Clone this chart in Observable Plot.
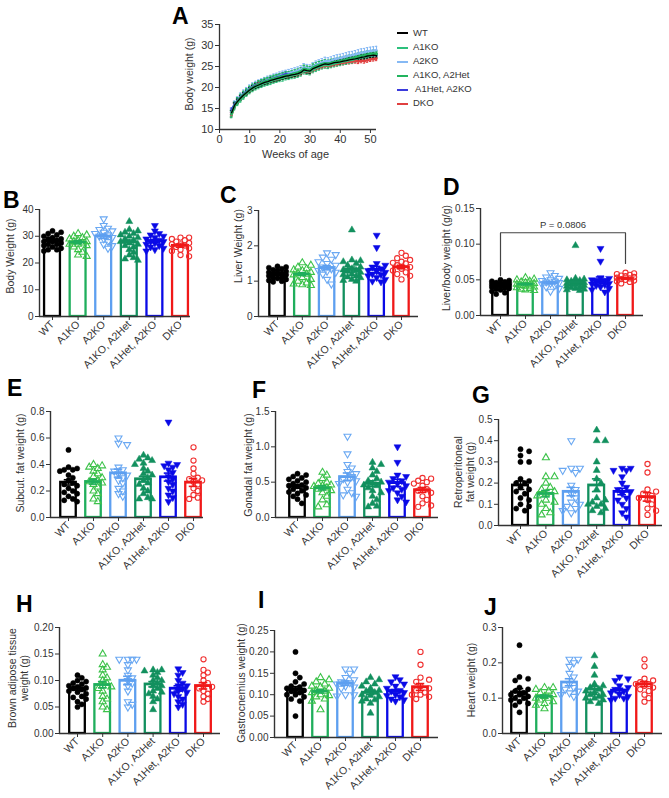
<!DOCTYPE html>
<html><head><meta charset="utf-8">
<script src="https://cdn.jsdelivr.net/npm/d3@7"></script>
<script src="https://cdn.jsdelivr.net/npm/@observablehq/plot@0.6"></script>
<style>
body{margin:0;background:#fff;font-family:"Liberation Sans",Arial,sans-serif;color:#222}
#root{position:relative;width:669px;height:798px;overflow:hidden;background:#fff}
.letter{position:absolute;font-weight:bold;font-size:23px;line-height:1;color:#000}
.ylab{position:absolute;font-size:10.5px;line-height:12px;white-space:nowrap;text-align:center;transform:translate(-50%,-50%) rotate(-90deg);color:#333}
.leg{position:absolute;font-size:9.5px;line-height:12px;white-space:pre;color:#333}
.sw{position:absolute;height:2px;width:11px}
</style></head><body><div id="root"></div>
<script>
// ---------------- DATA ----------------
const groups = ["WT", "A1KO", "A2KO", "A1KO, A2Het", "A1Het, A2KO", "DKO"];
const barColors = ["#000000", "#1fae5c", "#5d9ff0", "#12905e", "#0a0ae6", "#f01818"];
const dotColors = ["#000000", "#3cc24a", "#6aa8f2", "#12905e", "#0a0ae6", "#f03030"];

// Panel A – body weight over time
const weeks = [4,5,6,7,8,9,10,11,12,13,14,15,16,17,18,19,20,21,22,23,24,25,26,27,28,29,30,31,32,33,34,35,36,37,38,39,40,41,42,43,44,45,46,47,48,49,50,51,52];
const seriesNames = ["WT", "A1KO", "A2KO", "A1KO, A2Het", " A1Het, A2KO", "DKO"];
const seriesColors = ["#000000", "#2cc07c", "#86b9f4", "#22b45e", "#3b3bdc", "#e04040"];
const wtBW = [14.0,15.8,16.7,17.5,18.2,18.8,19.4,19.9,20.3,20.6,20.9,21.2,21.4,21.7,21.9,22.1,22.3,22.5,22.7,22.8,23.0,23.1,23.3,23.6,24.2,24.0,23.9,24.5,24.8,25.1,25.4,25.6,25.5,25.7,25.9,26.0,26.1,26.3,26.4,26.6,26.7,26.8,27.0,27.2,27.3,27.5,27.6,27.7,27.6];
const a1koBW = [13.6,15.5,16.5,17.3,18.0,18.7,19.3,19.8,20.2,20.5,20.8,21.1,21.3,21.5,21.8,22.0,22.2,22.3,22.6,22.7,22.9,23.0,23.2,23.5,24.0,23.9,23.8,24.3,24.6,24.9,25.2,25.4,25.3,25.5,25.7,25.9,26.0,26.2,26.3,26.5,26.6,26.8,27.0,27.2,27.3,27.4,27.6,27.7,27.8];
const a2koBW = [13.9,15.9,16.9,17.8,18.5,19.1,19.7,20.2,20.6,20.9,21.2,21.5,21.8,22.0,22.3,22.5,22.8,23.0,23.2,23.4,23.6,23.8,24.0,24.3,24.8,24.6,24.5,25.0,25.4,25.7,26.0,26.3,26.2,26.4,26.7,26.9,27.0,27.2,27.4,27.6,27.7,27.9,28.1,28.3,28.4,28.6,28.7,28.8,28.9];
const a1koA2hetBW = [13.8,15.7,16.8,17.6,18.3,18.9,19.5,20.0,20.4,20.8,21.1,21.4,21.6,21.9,22.1,22.3,22.5,22.7,22.9,23.0,23.2,23.4,23.6,23.9,24.5,24.3,24.2,24.8,25.1,25.4,25.6,25.8,25.7,25.9,26.1,26.2,26.4,26.5,26.7,26.9,27.0,27.2,27.4,27.6,27.7,27.9,28.0,28.1,28.0];
const a1hetA2koBW = [14.6,16.0,16.9,17.7,18.4,19.0,19.6,20.1,20.5,20.8,21.1,21.4,21.6,21.9,22.1,22.4,22.6,22.9,23.2,23.0,23.2,23.3,23.5,23.8,24.3,24.1,24.0,24.6,24.9,25.2,25.5,25.7,25.6,25.8,26.0,26.1,26.3,26.4,26.6,26.7,26.9,27.0,27.2,27.3,27.4,27.6,27.7,27.8,27.7];
const dkoBW = [13.5,15.6,16.6,17.4,18.1,18.7,19.3,19.8,20.4,21.0,20.9,21.2,21.4,21.6,21.8,22.0,22.2,22.4,22.6,22.7,22.9,23.0,23.2,23.4,24.0,23.8,23.7,24.2,24.5,24.8,25.0,25.2,25.1,25.3,25.5,25.6,25.8,25.9,26.0,26.1,26.2,26.3,26.2,26.4,26.3,26.5,26.7,26.8,26.9];
const seriesSem = [0.5, 0.8, 0.9, 0.8, 0.5, 0.5];

// Panel B – body weight (g)
const bodyMean = [28.3, 27.8, 30.0, 27.8, 28.2, 26.5];
const bodySem = [0.5, 0.6, 0.8, 0.8, 0.6, 0.6];
const bodyPts = [
  [32,31.5,31,30.5,30,29.5,29,29,28.5,28,28,27.5,27,27,26.5,26,25.5,25,25,24.5],
  [31,30.5,30,29.5,29,28.5,28,28,27.5,27,27,26.5,26,25,24,23,22.5],
  [36.5,34,33,32.5,32,31.5,31,30.5,30,29.5,29,28,27,26.5,25.5],
  [35.5,32.5,32,31.5,31,30.5,30,29.5,29,28.5,28,27.5,27,26.5,26,25,24,23,22,21.5,21],
  [34,32,31,30.5,30,29.5,29,28.5,28,28,27.5,27,26.5,26,25.5,25,24.5],
  [29.5,29.5,29,28.5,28,27.5,27,27,26.5,26,25.5,25,24.5,23,22.5]
];
// Panel C – liver weight (g)
const liverMean = [1.2, 1.2, 1.38, 1.33, 1.33, 1.4];
const liverSem = [0.03, 0.04, 0.06, 0.07, 0.09, 0.05];
const liverPts = [
  [1.42,1.4,1.38,1.35,1.32,1.3,1.28,1.25,1.22,1.2,1.2,1.18,1.15,1.12,1.1,1.08,1.05,1.02,1.0,0.98],
  [1.52,1.45,1.4,1.35,1.32,1.3,1.25,1.22,1.2,1.18,1.1,1.05,1.0,0.95,0.92,0.9,0.88],
  [1.8,1.75,1.68,1.62,1.55,1.5,1.45,1.4,1.35,1.3,1.28,1.25,1.2,1.05,0.92],
  [2.45,1.6,1.58,1.55,1.5,1.45,1.4,1.35,1.32,1.3,1.28,1.25,1.2,1.18,1.15,1.12,1.1,1.05,1.02,1.0],
  [2.3,1.95,1.5,1.45,1.4,1.35,1.3,1.28,1.25,1.2,1.18,1.15,1.1,1.05,1.0,0.98],
  [1.8,1.72,1.65,1.6,1.55,1.52,1.5,1.45,1.4,1.35,1.3,1.25,1.2,1.15,1.05]
];
// Panel D – liver/body weight (g/g)
const ratioMean = [0.043, 0.044, 0.046, 0.047, 0.050, 0.052];
const ratioSem = [0.0012, 0.0012, 0.0016, 0.003, 0.004, 0.0012];
const ratioPts = [
  [0.05,0.049,0.048,0.047,0.046,0.045,0.045,0.044,0.043,0.042,0.042,0.041,0.04,0.039,0.038,0.037,0.036,0.034,0.032,0.03],
  [0.053,0.051,0.05,0.048,0.047,0.046,0.045,0.044,0.043,0.042,0.041,0.04,0.039,0.038,0.037,0.036,0.035],
  [0.06,0.056,0.054,0.052,0.05,0.049,0.048,0.047,0.046,0.045,0.044,0.042,0.04,0.038,0.034],
  [0.098,0.052,0.051,0.05,0.049,0.048,0.047,0.046,0.045,0.045,0.044,0.043,0.042,0.041,0.04,0.039,0.038,0.037,0.036,0.035],
  [0.094,0.076,0.053,0.052,0.05,0.048,0.047,0.046,0.045,0.044,0.043,0.042,0.04,0.038,0.036,0.033],
  [0.06,0.059,0.058,0.057,0.056,0.055,0.054,0.053,0.052,0.051,0.05,0.049,0.048,0.047,0.045]
];
const pLabel = "P = 0.0806";
const pBracketTop = 0.116;
const pBracketEnds = [0.056, 0.073];
// Panel E – subcutaneous fat (g)
const subMean = [0.265, 0.27, 0.335, 0.29, 0.305, 0.265];
const subSem = [0.02, 0.018, 0.03, 0.02, 0.03, 0.03];
const subPts = [
  [0.51,0.38,0.37,0.36,0.36,0.35,0.32,0.3,0.28,0.26,0.25,0.24,0.22,0.2,0.19,0.18,0.16,0.14,0.13,0.12],
  [0.4,0.39,0.38,0.37,0.35,0.33,0.31,0.3,0.28,0.27,0.26,0.25,0.23,0.2,0.18,0.14,0.12],
  [0.6,0.56,0.55,0.38,0.36,0.35,0.33,0.32,0.3,0.28,0.26,0.22,0.2,0.18,0.16],
  [0.47,0.45,0.44,0.43,0.41,0.4,0.37,0.35,0.33,0.32,0.3,0.28,0.26,0.25,0.22,0.2,0.18,0.15,0.14,0.14],
  [0.72,0.41,0.4,0.39,0.38,0.36,0.34,0.31,0.29,0.27,0.25,0.22,0.2,0.17,0.15,0.12],
  [0.53,0.43,0.37,0.33,0.3,0.29,0.28,0.27,0.25,0.22,0.2,0.17,0.15,0.14]
];
// Panel F – gonadal fat (g)
const gonMean = [0.44, 0.42, 0.575, 0.48, 0.49, 0.39];
const gonSem = [0.025, 0.03, 0.055, 0.04, 0.05, 0.035];
const gonPts = [
  [0.62,0.6,0.58,0.56,0.54,0.52,0.5,0.48,0.46,0.45,0.44,0.42,0.4,0.38,0.36,0.34,0.32,0.3,0.26,0.2],
  [0.64,0.6,0.55,0.5,0.48,0.46,0.45,0.44,0.42,0.4,0.38,0.35,0.3,0.25,0.18,0.15],
  [1.15,0.9,0.75,0.7,0.65,0.62,0.58,0.55,0.52,0.5,0.48,0.4,0.35,0.32,0.3],
  [0.78,0.75,0.7,0.65,0.6,0.55,0.52,0.5,0.48,0.46,0.45,0.42,0.38,0.35,0.3,0.25,0.2,0.16,0.15],
  [1.0,0.78,0.6,0.58,0.55,0.52,0.5,0.48,0.45,0.42,0.4,0.38,0.35,0.3,0.25,0.22],
  [0.56,0.55,0.52,0.5,0.48,0.45,0.4,0.38,0.35,0.3,0.25,0.2,0.17,0.15]
];
// Panel G – retroperitoneal fat (g)
const retMean = [0.19, 0.15, 0.16, 0.19, 0.16, 0.135];
const retSem = [0.02, 0.015, 0.02, 0.03, 0.015, 0.02];
const retPts = [
  [0.36,0.35,0.33,0.3,0.3,0.22,0.21,0.2,0.2,0.18,0.17,0.16,0.15,0.13,0.12,0.1,0.09,0.08,0.07],
  [0.32,0.23,0.23,0.2,0.18,0.17,0.16,0.15,0.14,0.12,0.11,0.1,0.08,0.06,0.05],
  [0.4,0.27,0.27,0.26,0.25,0.19,0.17,0.15,0.13,0.11,0.1,0.09,0.08,0.07,0.06],
  [0.45,0.4,0.4,0.3,0.26,0.22,0.2,0.17,0.13,0.12,0.11,0.1,0.1,0.09,0.08,0.07,0.06],
  [0.27,0.27,0.26,0.26,0.23,0.2,0.18,0.17,0.16,0.15,0.13,0.12,0.1,0.08,0.06,0.04],
  [0.29,0.25,0.17,0.16,0.15,0.14,0.13,0.12,0.1,0.08,0.07,0.05]
];
// Panel H – brown adipose tissue (g)
const batMean = [0.085, 0.092, 0.1, 0.093, 0.085, 0.09];
const batSem = [0.003, 0.006, 0.008, 0.005, 0.005, 0.006];
const batPts = [
  [0.11,0.105,0.1,0.098,0.095,0.093,0.09,0.088,0.086,0.085,0.083,0.08,0.078,0.075,0.07,0.068,0.065,0.06,0.055,0.05],
  [0.15,0.13,0.125,0.12,0.11,0.105,0.1,0.095,0.09,0.088,0.085,0.08,0.07,0.065,0.06,0.05,0.045],
  [0.14,0.14,0.14,0.14,0.13,0.12,0.11,0.105,0.1,0.095,0.09,0.08,0.06,0.055,0.05],
  [0.12,0.12,0.118,0.115,0.11,0.105,0.1,0.1,0.095,0.09,0.09,0.085,0.08,0.078,0.075,0.07,0.065,0.06,0.045],
  [0.122,0.115,0.11,0.1,0.095,0.09,0.09,0.085,0.08,0.078,0.075,0.07,0.065,0.06,0.055,0.05],
  [0.14,0.12,0.115,0.11,0.1,0.095,0.09,0.088,0.085,0.08,0.075,0.07,0.065,0.06]
];
// Panel I – gastrocnemius (g)
const gasMean = [0.112, 0.108, 0.127, 0.105, 0.108, 0.118];
const gasSem = [0.007, 0.004, 0.005, 0.005, 0.004, 0.008];
const gasPts = [
  [0.2,0.15,0.14,0.13,0.125,0.12,0.118,0.115,0.112,0.11,0.108,0.105,0.1,0.1,0.095,0.09,0.085,0.05],
  [0.14,0.135,0.13,0.125,0.12,0.118,0.115,0.11,0.108,0.105,0.1,0.098,0.095,0.09,0.085,0.065],
  [0.16,0.16,0.15,0.14,0.135,0.13,0.128,0.125,0.12,0.118,0.115,0.1,0.1,0.097],
  [0.14,0.135,0.13,0.125,0.12,0.115,0.11,0.108,0.105,0.1,0.098,0.095,0.09,0.088,0.085,0.08,0.057],
  [0.142,0.135,0.13,0.125,0.12,0.115,0.11,0.108,0.105,0.1,0.098,0.095,0.09,0.088,0.085],
  [0.2,0.17,0.14,0.135,0.13,0.12,0.115,0.11,0.105,0.1,0.1,0.095,0.09]
];
// Panel J – heart (g)
const heartMean = [0.117, 0.105, 0.145, 0.125, 0.122, 0.14];
const heartSem = [0.01, 0.004, 0.01, 0.008, 0.006, 0.007];
const heartPts = [
  [0.25,0.16,0.155,0.15,0.13,0.125,0.12,0.115,0.11,0.11,0.105,0.1,0.1,0.095,0.09,0.085,0.08,0.06],
  [0.13,0.13,0.125,0.12,0.115,0.11,0.105,0.1,0.1,0.095,0.09,0.085,0.08,0.07],
  [0.21,0.21,0.2,0.19,0.17,0.16,0.14,0.13,0.125,0.12,0.115,0.11,0.105],
  [0.22,0.19,0.165,0.14,0.135,0.13,0.125,0.12,0.115,0.11,0.11,0.105,0.1,0.1,0.095,0.09,0.085],
  [0.16,0.155,0.15,0.135,0.13,0.125,0.12,0.115,0.11,0.105,0.1,0.1,0.095],
  [0.21,0.19,0.155,0.15,0.145,0.14,0.14,0.135,0.13,0.125,0.12,0.11,0.1,0.09]
];

// ---------------- RENDER ----------------
const root = document.getElementById("root");
const FONT = '"Liberation Sans", Arial, sans-serif';
const sqrt3 = Math.sqrt(3);
const triangleDown = {
  draw(context, size) {
    const y = -Math.sqrt(size / (sqrt3 * 3));
    context.moveTo(0, -y * 2);
    context.lineTo(-sqrt3 * y, y);
    context.lineTo(sqrt3 * y, y);
    context.closePath();
  }
};
const symbols = ["circle", "triangle", triangleDown, "triangle", triangleDown, "circle"];
const filled = [true, false, false, true, true, false];

function place(el, left, top) {
  el.style.position = "absolute";
  el.style.left = left + "px";
  el.style.top = top + "px";
  root.appendChild(el);
}
function addDiv(cls, html, left, top) {
  const d = document.createElement("div");
  d.className = cls;
  d.innerHTML = html;
  d.style.left = left + "px";
  d.style.top = top + "px";
  root.appendChild(d);
  return d;
}

function swarmOffsets(values, ppx, ppy) {
  const order = values.map((v, i) => i).sort((a, b) => values[b] - values[a]);
  const placed = [];
  const off = new Array(values.length).fill(0);
  const step = 4.3, cand = [0, 1, -1, 2, -2];
  for (const i of order) {
    const py = values[i] * ppy;
    let best = 0, bestScore = Infinity;
    for (const c of cand) {
      const px = c * step;
      let coll = 0;
      for (const p of placed) {
        const d = Math.hypot(p[0] - px, p[1] - py);
        if (d < 5) coll += 5 - d;
      }
      if (coll === 0) { best = px; bestScore = 0; break; }
      if (coll < bestScore) { bestScore = coll; best = px; }
    }
    placed.push([best, py]);
    off[i] = best / ppx;
  }
  return off;
}

function barPanel(cfg, pts, means, sems) {
  const mL = 40, mR = 6, mT = 8, mB = 64;
  const sp = (cfg.dko - cfg.wt) / 5;
  const lo = -(cfg.wt - cfg.ax) / sp;
  const hi = 5 + (cfg.x1 - cfg.dko) / sp;
  const innerW = cfg.x1 - cfg.ax, innerH = cfg.yBot - cfg.yTop;
  const ppy = innerH / cfg.max;
  const marks = [];
  const bars = means.map((m, i) => ({i, mean: m, sem: sems[i]}));
  for (let g = 0; g < 6; g++) {
    const b = [bars[g]];
    marks.push(Plot.rect(b, {x1: d => d.i - 0.31, x2: d => d.i + 0.31, y1: d => 0, y2: d => d.mean,
      fill: "white", stroke: barColors[g], strokeWidth: 2.3}));
  }
  for (let g = 0; g < 6; g++) {
    const vals = pts[g];
    const off = swarmOffsets(vals, sp, ppy);
    const data = vals.map((v, k) => ({x: g + off[k], y: v}));
    marks.push(Plot.dot(data, {x: "x", y: "y", r: 2.6, symbol: symbols[g],
      fill: filled[g] ? dotColors[g] : "white", fillOpacity: filled[g] ? 1 : 0,
      stroke: dotColors[g], strokeWidth: filled[g] ? 0.5 : 1.1}));
  }
  for (let g = 0; g < 6; g++) {
    const b = [bars[g]];
    marks.push(Plot.ruleX(b, {x: "i", y1: d => d.mean - d.sem, y2: d => d.mean + d.sem, stroke: barColors[g], strokeWidth: 1.6}));
    marks.push(Plot.ruleY(b, {y: d => d.mean + d.sem, x1: d => d.i - 0.17, x2: d => d.i + 0.17, stroke: barColors[g], strokeWidth: 1.6}));
    marks.push(Plot.ruleY(b, {y: d => d.mean - d.sem, x1: d => d.i - 0.17, x2: d => d.i + 0.17, stroke: barColors[g], strokeWidth: 1.6}));
    marks.push(Plot.ruleY(b, {y: "mean", x1: d => d.i - 0.31, x2: d => d.i + 0.31, stroke: barColors[g], strokeWidth: 2.3}));
  }
  if (cfg.extra) marks.push(...cfg.extra);
  marks.push(Plot.ruleX([lo], {y1: 0, y2: cfg.max, stroke: "#333", strokeWidth: 1.4}));
  marks.push(Plot.ruleY([0], {x1: lo, x2: hi, stroke: "#333", strokeWidth: 1.4}));
  marks.push(Plot.axisY({ticks: cfg.ticks, tickFormat: d3.format(cfg.fmt), tickSize: 4, tickPadding: 2, label: null, color: "#333"}));
  marks.push(Plot.axisX({ticks: [0, 1, 2, 3, 4, 5], tickFormat: i => groups[i], tickRotate: -45, tickSize: 4, tickPadding: 2, label: null, color: "#333", fontSize: 10.5}));
  const svg = Plot.plot({
    width: mL + innerW + mR, height: mT + innerH + mB,
    marginLeft: mL, marginRight: mR, marginTop: mT, marginBottom: mB,
    style: {fontFamily: FONT, fontSize: "10px", background: "transparent", overflow: "visible"},
    x: {type: "linear", domain: [lo, hi], axis: null},
    y: {type: "linear", domain: [0, cfg.max], axis: null},
    marks
  });
  place(svg, cfg.ax - mL, cfg.yTop - mT);
}

// ----- Panel A -----
(function () {
  const mL = 45, mR = 6, mT = 6, mB = 34;
  const ax = 219, x1 = 376, yTop = 24, yBot = 129;
  const series = [wtBW, a1koBW, a2koBW, a1koA2hetBW, a1hetA2koBW, dkoBW];
  const drawOrder = [2, 5, 4, 1, 3, 0];
  const marks = [];
  for (const s of drawOrder) {
    const data = weeks.map((w, k) => ({w, v: series[s][k], e: seriesSem[s]}));
    const sw = (s === 1 || s === 3) ? 1.5 : 1.1;
    marks.push(Plot.ruleX(data, {x: "w", y1: d => d.v - d.e, y2: d => d.v + d.e, stroke: seriesColors[s], strokeWidth: sw}));
    marks.push(Plot.ruleY(data, {y: d => d.v + d.e, x1: d => d.w - 0.4, x2: d => d.w + 0.4, stroke: seriesColors[s], strokeWidth: 1.1}));
    marks.push(Plot.ruleY(data, {y: d => d.v - d.e, x1: d => d.w - 0.4, x2: d => d.w + 0.4, stroke: seriesColors[s], strokeWidth: 1.1}));
  }
  for (const s of drawOrder) {
    const data = weeks.map((w, k) => ({w, v: series[s][k]}));
    marks.push(Plot.line(data, {x: "w", y: "v", stroke: seriesColors[s], strokeWidth: s === 0 ? 1.3 : 2.4}));
  }
  marks.push(Plot.ruleX([0], {y1: 10, y2: 35, stroke: "#333", strokeWidth: 1.3}));
  marks.push(Plot.ruleY([10], {x1: 0, x2: 52, stroke: "#333", strokeWidth: 1.3}));
  marks.push(Plot.axisY({ticks: [10, 15, 20, 25, 30, 35], tickSize: 4, tickPadding: 2, label: null, color: "#333", fontSize: 11}));
  marks.push(Plot.axisX({ticks: [0, 10, 20, 30, 40, 50], tickSize: 4, tickPadding: 2, label: null, color: "#333", fontSize: 11}));
  const svg = Plot.plot({
    width: mL + (x1 - ax) + mR, height: mT + (yBot - yTop) + mB,
    marginLeft: mL, marginRight: mR, marginTop: mT, marginBottom: mB,
    style: {fontFamily: FONT, fontSize: "11px", background: "transparent", overflow: "visible"},
    x: {type: "linear", domain: [0, 52], axis: null},
    y: {type: "linear", domain: [10, 35], axis: null},
    marks
  });
  place(svg, ax - mL, yTop - mT);
  // legend
  const rowY = [33, 47.5, 61.5, 75.5, 89.5, 103.5];
  seriesNames.forEach((n, i) => {
    const sw = document.createElement("div");
    sw.className = "sw";
    sw.style.background = seriesColors[i];
    sw.style.left = "397px";
    sw.style.top = (rowY[i] - 1) + "px";
    root.appendChild(sw);
    addDiv("leg", n, 413, rowY[i] - 6.5);
  });
  const xl = addDiv("leg", "Weeks of age", 0, 0);
  xl.style.fontSize = "11px"; xl.style.left = "262px"; xl.style.top = "148px"; xl.style.color = "#333";
})();

// ----- bar panels -----
const bracketData = [
  {x: 0, y: pBracketEnds[0]}, {x: 0, y: pBracketTop}, {x: 5, y: pBracketTop}, {x: 5, y: pBracketEnds[1]}
];
barPanel({ax: 39, x1: 190, yTop: 209, yBot: 316, wt: 52, dko: 180, max: 40, ticks: [0, 10, 20, 30, 40], fmt: "d"}, bodyPts, bodyMean, bodySem);
barPanel({ax: 258, x1: 418, yTop: 210, yBot: 316, wt: 277, dko: 401, max: 3, ticks: [0, 1, 2, 3], fmt: "d"}, liverPts, liverMean, liverSem);
barPanel({ax: 480, x1: 643, yTop: 208, yBot: 315, wt: 500, dko: 625, max: 0.15, ticks: [0, 0.05, 0.1, 0.15], fmt: ".2f",
  extra: [
    Plot.line(bracketData, {x: "x", y: "y", stroke: "#444", strokeWidth: 1.2}),
    Plot.text([pLabel], {x: () => 2.5, y: () => pBracketTop, text: d => d, dy: -8, fontSize: 9.5, fill: "#333"})
  ]}, ratioPts, ratioMean, ratioSem);
barPanel({ax: 50, x1: 203, yTop: 411, yBot: 517, wt: 68, dko: 193, max: 0.8, ticks: [0, 0.2, 0.4, 0.6, 0.8], fmt: ".1f"}, subPts, subMean, subSem);
barPanel({ax: 275, x1: 438, yTop: 411, yBot: 517, wt: 297, dko: 422, max: 1.5, ticks: [0, 0.5, 1, 1.5], fmt: ".1f"}, gonPts, gonMean, gonSem);
barPanel({ax: 498, x1: 662, yTop: 419, yBot: 525, wt: 520, dko: 647, max: 0.5, ticks: [0, 0.1, 0.2, 0.3, 0.4, 0.5], fmt: ".1f"}, retPts, retMean, retSem);
barPanel({ax: 59, x1: 220, yTop: 627, yBot: 733, wt: 77, dko: 203, max: 0.2, ticks: [0, 0.05, 0.1, 0.15, 0.2], fmt: ".2f"}, batPts, batMean, batSem);
barPanel({ax: 274, x1: 438, yTop: 630, yBot: 737, wt: 295, dko: 420, max: 0.25, ticks: [0, 0.05, 0.1, 0.15, 0.2, 0.25], fmt: ".2f"}, gasPts, gasMean, gasSem);
barPanel({ax: 502, x1: 662, yTop: 627, yBot: 733, wt: 519, dko: 644, max: 0.3, ticks: [0, 0.1, 0.2, 0.3], fmt: ".1f"}, heartPts, heartMean, heartSem);

// ----- y-axis titles -----
const ylabs = [
  ["Body weight (g)", 189, 74],
  ["Body Weight (g)", 10, 256],
  ["Liver Weight (g)", 238, 246],
  ["Liver/body weight (g/g)", 446, 258],
  ["Subcut. fat weight (g)", 20, 463],
  ["Gonadal fat weight (g)", 248, 465],
  ["Retroperitoneal<br>fat weight (g)", 464, 472],
  ["Brown adipose tissue<br>weight (g)", 18, 678],
  ["Gastrocnemius weight (g)", 241, 683],
  ["Heart weight (g)", 471, 680]
];
ylabs.forEach(([t, x, y]) => addDiv("ylab", t, x, y));

// ----- panel letters -----
const letters = [["A", 172, 5], ["B", 3, 189], ["C", 220, 184], ["D", 443, 176], ["E", 7, 377],
  ["F", 252, 379], ["G", 472, 384], ["H", 16, 593], ["I", 258, 589], ["J", 484, 596]];
letters.forEach(([t, x, y]) => addDiv("letter", t, x, y));
</script></body></html>
